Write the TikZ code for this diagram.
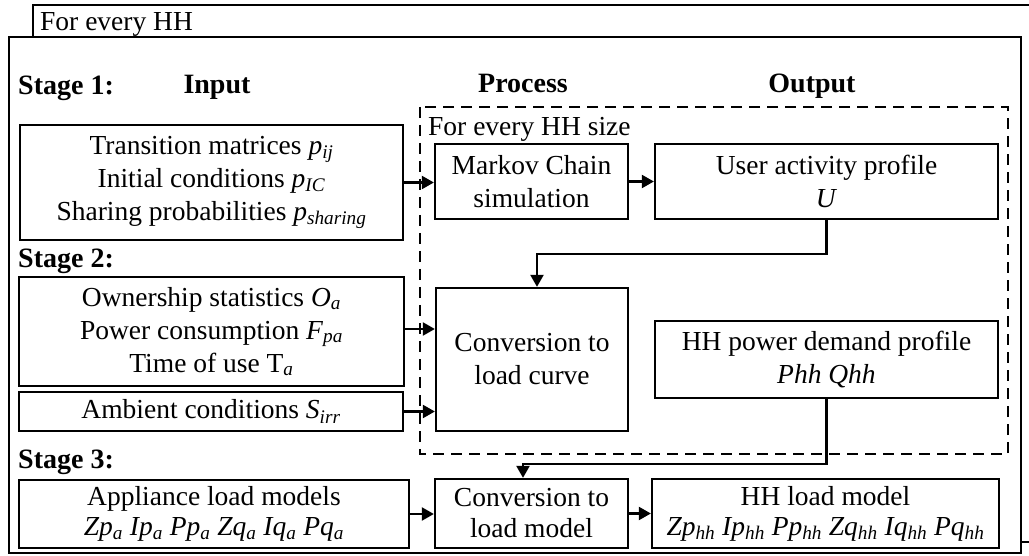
\documentclass[tikz,border=0pt]{standalone}
\usepackage{fontspec}
\setmainfont{Liberation Serif}
\usetikzlibrary{arrows.meta}
\newcommand\isub[1]{\textsubscript{\textit{#1}}}
\tikzset{
  box/.style={draw, line width=2.3pt, align=center, inner sep=0pt, font=\fontsize{27.5}{33}\selectfont},
  arr/.style={line width=2.3pt, -{Triangle[length=12pt,width=13pt]}},
  frame/.style={draw, line width=2.3pt},
  lbl/.style={inner sep=0pt, anchor=base west, font=\fontsize{27.5}{30}\selectfont},
  head/.style={inner sep=0pt, anchor=base, font=\fontsize{28}{30}\selectfont\bfseries},
  dbox/.style={draw, line width=2.3pt, dash pattern=on 11pt off 7pt}
}
\begin{document}
\begin{tikzpicture}[x=1pt,y=-1pt]
\clip (0,0) rectangle (1029,556);
\useasboundingbox (0,0) rectangle (1029,556);
% back frame (for every HH)
\draw[frame] (33,5) rectangle (1060,542);
\node[lbl] (tEveryHH) at (40,31) {For every HH};
% front frame
\draw[frame, fill=white] (9,37) rectangle (1021,553);
% headings
\node[head, anchor=base west] (st1) at (18,95) {Stage 1:};
\node[head] (hIn) at (217,94) {Input};
\node[head] (hPr) at (523,93) {Process};
\node[head] (hOut) at (812,93) {Output};
\node[head, anchor=base west] (st2) at (18,268) {Stage 2:};
\node[head, anchor=base west] (st3) at (18,468) {Stage 3:};
% dashed region
\draw[dbox] (420,107) rectangle (1008,454);
\node[lbl] (tSize) at (428,136) {For every HH size};
% stage 1
\node[box, minimum width=383, minimum height=115] (in1) at (211.5,182.5)
  {Transition matrices \textit{p}\isub{ij}\\ Initial conditions \textit{p}\isub{IC}\\ Sharing probabilities \textit{p}\isub{sharing}};
\node[box, minimum width=193, minimum height=75] (mc) at (531.5,181.5) {Markov Chain\\ simulation};
\node[box, minimum width=343, minimum height=75] (ua) at (826.5,181.5) {User activity profile\\ \textit{U}};
% stage 2
\node[box, minimum width=385, minimum height=109] (in2) at (211.5,331.5)
  {Ownership statistics \textit{O}\isub{a}\\ Power consumption \textit{F}\isub{pa}\\ Time of use T\isub{a}};
\node[box, minimum width=384, minimum height=39] (amb) at (211,411.5) {Ambient conditions \textit{S}\isub{irr}};
\node[box, minimum width=192, minimum height=143] (clc) at (532,359.5) {Conversion to\\ load curve};
\node[box, minimum width=343, minimum height=77] (pd) at (826.5,359.5) {HH power demand profile\\ \textit{Phh Qhh}};
% stage 3
\node[box, minimum width=390, minimum height=68, font=\fontsize{27.5}{30}\selectfont] (app) at (214,514)
  {Appliance load models\\ \textit{Zp}\isub{a} \textit{Ip}\isub{a} \textit{Pp}\isub{a} \textit{Zq}\isub{a} \textit{Iq}\isub{a} \textit{Pq}\isub{a}};
\node[box, minimum width=193, minimum height=69, font=\fontsize{27.5}{31}\selectfont] (clm) at (531.5,513.5) {Conversion to\\ load model};
\node[box, minimum width=347, minimum height=69, font=\fontsize{27.5}{30}\selectfont] (hlm) at (825.5,513.5)
  {HH load model\\ \textit{Zp}\isub{hh} \textit{Ip}\isub{hh} \textit{Pp}\isub{hh} \textit{Zq}\isub{hh} \textit{Iq}\isub{hh} \textit{Pq}\isub{hh}};
% connectors
\draw[arr] (in1.east) -- (in1.east -| mc.west);
\draw[arr] (mc.east) -- (ua.west);
\coordinate (j1) at (537,254);
\draw[arr] (ua.south) |- (j1) -- (j1 |- clc.north);
\coordinate (y2) at (0,329);
\draw[arr] (in2.east |- y2) -- (y2 -| clc.west);
\draw[arr] (amb.east) -- (amb.east -| clc.west);
\coordinate (j2) at (523,464);
\draw[arr] (pd.south) |- (j2) -- (j2 |- clm.north);
\draw[arr] (app.east) -- (app.east -| clm.west);
\draw[arr] (clm.east) -- (clm.east -| hlm.west);
\end{tikzpicture}
\end{document}
